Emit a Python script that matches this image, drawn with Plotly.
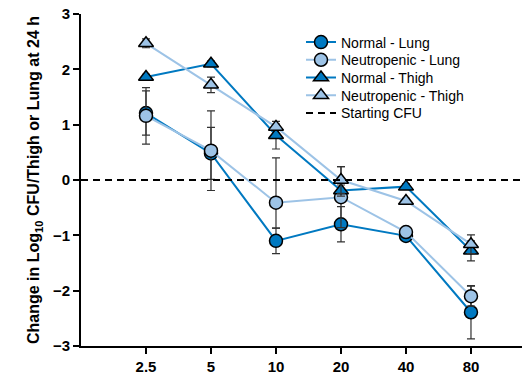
import plotly.graph_objects as go

categories = ["2.5", "5", "10", "20", "40", "80"]

normal_lung = [1.21, 0.48, -1.10, -0.80, -1.01, -2.39]
normal_lung_err = [0.40, 0.47, 0.23, 0.32, 0.05, 0.48]

neutro_lung = [1.16, 0.53, -0.41, -0.31, -0.94, -2.10]
neutro_lung_err_plus = [0.51, 0.72, 0.81, 0.55, 0.05, 0.18]
neutro_lung_err_minus = [0.51, 0.72, 0.46, 0.55, 0.05, 0.18]

normal_thigh = [1.86, 2.10, 0.81, -0.19, -0.12, -1.28]
normal_thigh_err = [0.05, 0.05, 0.25, 0.10, 0.05, 0.18]

neutro_thigh = [2.47, 1.72, 0.96, 0.00, -0.38, -1.16]
neutro_thigh_err = [0.08, 0.14, 0.05, 0.24, 0.05, 0.17]

starting_cfu = 0.0

DARK = "#0079C1"
LIGHT = "#9DC3E6"
FONT = "Liberation Sans, Arial, sans-serif"

xpos = list(range(1, len(categories) + 1))
x_range = [0, 6.785]

W, H = 522, 374
ML, MR, MT, MB = 81, 0, 14, 28
PH = H - MT - MB

fig = go.Figure()

legend_names = ["legend", "legend2", "legend3", "legend4", "legend5"]

def add(i, name, y, plus, minus, color, symbol, size):
    fig.add_trace(go.Scatter(
        x=xpos, y=y, name=name, mode="lines+markers", legend=legend_names[i],
        line=dict(color=color, width=2),
        marker=dict(symbol=symbol, size=size, color=color,
                    line=dict(color="black", width=1.5)),
        error_y=dict(type="data", array=plus, arrayminus=minus, symmetric=False,
                     color="#333333", thickness=1.2, width=4),
    ))

add(0, "Normal - Lung", normal_lung, normal_lung_err, normal_lung_err, DARK, "circle", 13)
add(1, "Neutropenic - Lung", neutro_lung, neutro_lung_err_plus, neutro_lung_err_minus, LIGHT, "circle", 13)
add(2, "Normal - Thigh", normal_thigh, normal_thigh_err, normal_thigh_err, DARK, "triangle-up", 13)
add(3, "Neutropenic - Thigh", neutro_thigh, neutro_thigh_err, neutro_thigh_err, LIGHT, "triangle-up", 13)

fig.add_trace(go.Scatter(
    x=x_range, y=[starting_cfu, starting_cfu], name="Starting CFU", mode="lines",
    legend=legend_names[4],
    line=dict(color="black", width=2, dash="7px,5px"),
))

# one legend per entry so entries sit 17.7 px apart like the reference
legend_left_px = 301
first_center_px = 42.5
step_px = 17.7
layout_legends = {}
for i, ln in enumerate(legend_names):
    top_px = first_center_px + i * step_px - 16
    layout_legends[ln] = dict(
        x=(legend_left_px - ML) / (W - ML - MR),
        y=1 - (top_px - MT) / PH,
        xanchor="left", yanchor="top",
        bgcolor="rgba(0,0,0,0)", font=dict(size=14, family=FONT, color="black"),
        itemwidth=30,
    )

fig.update_layout(
    width=W, height=H,
    margin=dict(l=ML, r=MR, t=MT, b=MB),
    paper_bgcolor="white", plot_bgcolor="white",
    font=dict(family=FONT, color="black"),
    showlegend=True,
    xaxis=dict(
        range=x_range, tickmode="array", tickvals=xpos, ticktext=categories,
        showgrid=False, zeroline=False, showline=True, linecolor="black", linewidth=2,
        ticks="outside", ticklen=6, tickwidth=2, tickcolor="black",
        tickfont=dict(size=15, family=FONT, weight="bold"),
    ),
    yaxis=dict(
        range=[-3, 3], tickvals=[-3, -2, -1, 0, 1, 2, 3],
        showgrid=False, zeroline=False, showline=True, linecolor="black", linewidth=2,
        ticks="outside", ticklen=6, tickwidth=2, tickcolor="black",
        tickfont=dict(size=15, family=FONT, weight="bold"),
        title=dict(text="<b>Change in Log<sub>10</sub> CFU/Thigh or Lung at 24 h</b>",
                   font=dict(size=16, family=FONT), standoff=9),
    ),
    **layout_legends,
)

fig.write_html("out.html")
